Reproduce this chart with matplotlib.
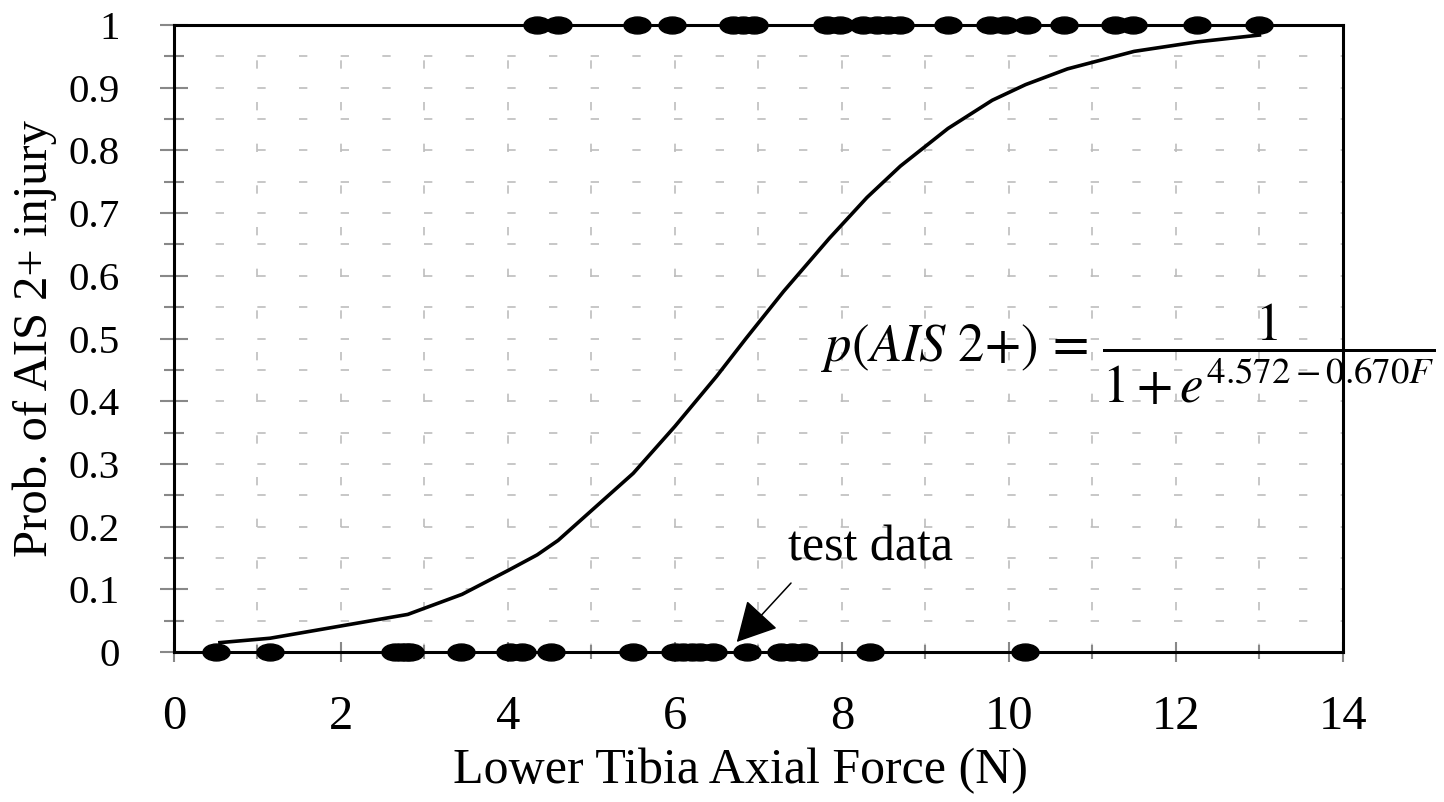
import matplotlib
matplotlib.use('Agg')
import matplotlib.pyplot as plt
from matplotlib.path import Path
from matplotlib.transforms import Affine2D

plt.rcParams['font.family'] = ['Liberation Serif', 'DejaVu Serif']
plt.rcParams['mathtext.fontset'] = 'stix'

# test data, injured (y=1) and not injured (y=0)
force_injured = [4.35, 4.6, 5.55, 5.96, 6.7, 6.82, 6.95, 7.82, 7.98, 8.25, 8.42,
                 8.55, 8.7, 9.27, 9.77, 9.95, 10.22, 10.66, 11.27, 11.48, 12.25, 13.0]
force_uninjured = [0.5, 1.15, 2.65, 2.72, 2.78, 2.83, 3.44, 4.02, 4.17, 4.51, 5.5,
                   6.0, 6.1, 6.2, 6.3, 6.45, 6.86, 7.27, 7.4, 7.55, 8.33, 10.19]

# fitted curve
curve_x = [0.55, 1.15, 2.8, 3.45, 4.0, 4.35, 4.6, 5.5, 6.0, 6.5, 6.85, 7.3, 7.85,
           8.3, 8.7, 9.27, 9.8, 10.2, 10.7, 11.5, 12.25, 13.0]
curve_y = [0.015, 0.022, 0.06, 0.092, 0.13, 0.155, 0.178, 0.285, 0.36, 0.44, 0.5,
           0.575, 0.66, 0.725, 0.775, 0.835, 0.88, 0.905, 0.93, 0.958, 0.973, 0.984]

fig = plt.figure(figsize=(14.44, 8.02), dpi=100, facecolor='white')
ax = fig.add_axes([0.1205, 0.187, 0.8095, 0.7818])

ellipse = Path.unit_circle().transformed(Affine2D().scale(1.6, 1.0))

ax.plot(curve_x, curve_y, color='black', linewidth=2.6, zorder=3)
ax.plot(force_injured, [1] * len(force_injured), linestyle='none', marker=ellipse,
        markersize=19.5, color='black', clip_on=False, zorder=4)
ax.plot(force_uninjured, [0] * len(force_uninjured), linestyle='none', marker=ellipse,
        markersize=19.5, color='black', clip_on=False, zorder=4)

ax.set_xlim(0, 14)
ax.set_ylim(0, 1)
ax.set_xticks(range(0, 15, 2))
ax.set_xticks(range(1, 15, 2), minor=True)
ax.set_yticks([i / 10 for i in range(11)])
ax.set_yticklabels(['0'] + ['0.%d' % i for i in range(1, 10)] + ['1'])
ax.set_yticks([i / 20 for i in range(1, 20, 2)], minor=True)

ax.grid(True, which='both', color='#bdbdbd', linestyle=(0, (5, 20)), linewidth=1.2)
ax.set_axisbelow(True)

for s in ax.spines.values():
    s.set_color('black')
    s.set_linewidth(2.2)

ax.tick_params(which='both', direction='inout', width=1.5, color='#888888')
ax.tick_params(axis='y', which='major', length=20, labelsize=29.5, pad=29)
ax.tick_params(axis='y', which='minor', length=14)
ax.tick_params(axis='x', which='major', length=14, labelsize=35, pad=24)
ax.tick_params(axis='x', which='minor', length=10)

ax.set_xlabel('Lower Tibia Axial Force (N)', fontsize=36)
ax.xaxis.set_label_coords(0.485, -0.153)
ax.set_ylabel('Prob. of AIS 2+ injury', fontsize=35, labelpad=8)

ax.text(8.34, 0.166, 'test data', fontsize=36, ha='center', va='center')
ax.annotate('', xy=(6.74, 0.016), xytext=(7.39, 0.110),
            arrowprops=dict(arrowstyle='-|>,head_length=1.25,head_width=0.67',
                            color='black', lw=1.1, mutation_scale=20,
                            shrinkA=0, shrinkB=0))

ax.text(11.43, 0.474, r'$p(AIS\ \mathrm{2{+}})\,=\,\dfrac{1}{1+e^{4.572-0.670F}}$',
        fontsize=38, ha='center', va='center', clip_on=False)

fig.savefig('out.png', dpi=100, facecolor='white')
